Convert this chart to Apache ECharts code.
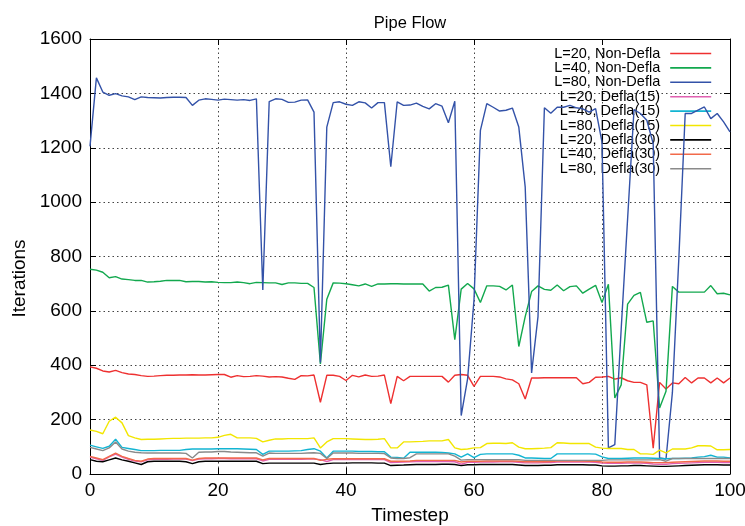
<!DOCTYPE html>
<html>
<head>
<meta charset="utf-8">
<script src="https://cdn.jsdelivr.net/npm/echarts@6/dist/echarts.min.js"></script>
<style>
html,body{margin:0;padding:0;background:#fff;}
#chart{width:745px;height:526px;}
</style>
</head>
<body>
<div id="chart"></div>
<script>
const seriesNames = ['L=20, Non-Defla','L=40, Non-Defla','L=80, Non-Defla','L=20, Defla(15)','L=40, Defla(15)','L=80, Defla(15)','L=20, Defla(30)','L=40, Defla(30)','L=80, Defla(30)'];
const xTicks = [0,20,40,60,80,100];
const yTicks = [0,200,400,600,800,1000,1200,1400,1600];

const l20NonDefla = [394,389,379,375,381,373,368,366,362,359,360,362,363,363,364,364,365,364,364,365,366,366,356,362,358,359,362,360,357,358,357,352,348,362,361,364,264,363,363,359,344,363,357,364,359,360,364,259,359,343,359,359,359,359,359,359,338,363,366,363,322,359,359,359,357,350,346,332,276,353,353,354,354,354,354,354,354,332,337,356,357,359,349,354,343,337,337,328,95,337,313,335,332,355,335,353,353,335,353,335,353];
const l40NonDefla = [753,750,742,722,726,717,715,712,712,706,707,709,712,712,712,707,708,708,706,707,705,704,704,706,704,700,705,704,703,703,697,703,703,701,701,686,405,643,703,702,700,696,692,699,690,699,699,700,700,699,699,699,699,673,686,687,695,494,680,701,681,631,692,692,690,677,695,469,579,671,692,679,676,695,674,689,692,665,680,694,631,698,280,328,625,657,668,558,563,243,304,690,669,669,669,669,669,693,663,665,659];
const l80NonDefla = [1205,1457,1405,1393,1399,1391,1387,1377,1387,1385,1384,1383,1385,1386,1386,1385,1356,1375,1380,1378,1375,1379,1377,1375,1377,1374,1380,677,1370,1380,1378,1367,1368,1375,1376,1331,410,1276,1366,1369,1360,1356,1369,1365,1346,1366,1366,1130,1369,1356,1357,1364,1352,1343,1362,1353,1292,1371,215,350,640,1264,1362,1349,1335,1338,1346,1276,1056,372,579,1347,1327,1349,1349,1356,1347,1343,1331,1344,1221,96,108,534,938,1340,1326,1301,1215,59,55,300,790,1326,1326,1338,1350,1307,1326,1295,1258];
const l20Defla15 = [62,56,50,63,73,62,54,48,45,52,54,54,54,55,55,55,49,55,56,56,57,57,56,56,56,56,56,48,54,54,54,54,54,54,55,55,53,46,53,53,53,53,53,53,53,53,53,42,43,44,45,46,46,46,46,47,46,45,36,43,43,44,44,44,45,45,45,43,41,41,41,42,42,44,44,44,44,44,44,43,40,39,39,39,40,40,40,39,37,36,36,38,39,40,41,42,43,43,43,42,42];
const l40Defla15 = [106,100,94,102,128,98,94,90,86,86,86,87,87,87,87,90,92,92,92,92,93,93,93,93,92,91,90,72,84,84,84,84,85,86,90,93,84,59,84,84,84,84,83,83,83,82,82,62,61,58,80,80,80,80,80,79,77,74,62,74,60,72,74,74,74,74,74,69,59,59,58,57,57,74,74,74,74,74,74,73,63,57,57,57,58,59,59,59,58,57,56,57,57,58,59,62,64,69,62,62,59];
const l80Defla15 = [162,157,148,194,209,188,141,133,127,128,128,129,130,131,131,132,132,132,133,133,135,142,146,133,133,133,131,118,124,129,129,130,130,130,130,133,96,118,130,130,130,129,128,127,127,128,130,96,96,118,118,119,120,122,122,122,127,96,90,92,96,97,112,113,113,112,115,99,93,93,94,95,97,115,114,112,112,112,112,99,95,94,94,94,90,90,74,74,72,88,78,92,92,92,96,104,104,103,89,89,90];
const l20Defla30 = [53,47,45,52,59,52,47,41,35,45,47,47,47,47,47,45,38,45,47,47,47,47,47,47,47,47,47,38,40,40,40,40,40,40,40,40,35,38,40,40,40,41,41,41,41,40,40,31,32,33,34,35,35,35,35,36,36,35,31,34,34,35,35,35,35,35,35,33,31,31,31,32,32,34,34,34,34,34,33,33,30,29,29,30,30,31,31,30,29,28,28,29,30,31,32,33,34,34,34,33,33];
const l40Defla30 = [65,59,53,65,77,65,57,50,47,55,57,57,57,57,57,57,51,57,59,59,59,59,59,59,59,59,59,52,57,57,57,57,57,57,57,57,50,54,56,56,56,56,56,56,56,56,56,47,47,47,48,50,50,50,50,50,50,50,44,47,47,47,48,48,48,48,48,47,45,45,45,45,46,48,48,48,48,48,47,47,44,43,43,43,44,44,44,43,42,42,42,43,44,45,46,47,48,48,48,47,47];
const l80Defla30 = [98,92,86,96,118,92,84,80,78,77,77,77,77,77,77,76,59,80,81,81,83,83,81,80,79,78,78,66,77,76,76,76,76,76,77,78,76,57,77,77,77,77,76,76,76,76,75,59,57,57,60,74,74,74,74,74,74,66,51,53,53,53,53,53,53,53,53,53,50,50,50,50,50,50,50,50,50,50,50,50,50,52,52,52,52,52,52,52,52,53,47,57,57,57,57,57,57,57,57,57,57];

const allValues = [l20NonDefla,l40NonDefla,l80NonDefla,l20Defla15,l40Defla15,l80Defla15,l20Defla30,l40Defla30,l80Defla30];
const colors = ['#ee3030','#12a84e','#3352a8','#e060b0','#12b4d2','#f2e600','#000000','#f26a4a','#8a8a8a'];

const FONT = 'Liberation Sans, Arial, sans-serif';
const chart = echarts.init(document.getElementById('chart'));

const series = allValues.map((vals, k) => ({
  name: seriesNames[k],
  type: 'line',
  data: vals.map((v, i) => [i, v]),
  symbol: 'none',
  showSymbol: false,
  smooth: false,
  animation: false,
  z: 2 + k,
  lineStyle: { color: colors[k], width: 1.4 },
  itemStyle: { color: colors[k] }
}));

const dotted = { show: true, lineStyle: { color: '#444', type: [1.5, 3], width: 1 } };
const tickLabelStyle = { fontFamily: FONT, fontSize: 19, color: '#000' };

chart.setOption({
  animation: false,
  backgroundColor: '#fff',
  title: {
    text: 'Pipe Flow', left: 405, textAlign: 'center', top: 10,
    textStyle: { fontFamily: FONT, fontSize: 16.5, fontWeight: 'normal', color: '#000' }
  },
  legend: {
    orient: 'vertical', align: 'right', right: 33, top: 46, padding: 0,
    itemWidth: 41, itemHeight: 14, itemGap: -0.6,
    itemStyle: { opacity: 0 },
    lineStyle: { width: 1.6 },
    textStyle: { fontFamily: FONT, fontSize: 14.5, color: '#000', lineHeight: 14, padding: [0, 5, 0, 0] },
    data: seriesNames,
    selectedMode: false
  },
  grid: { left: 90, right: 15, top: 39, bottom: 52, containLabel: false, outerBoundsMode: 'none' },
  xAxis: [{
    type: 'value', min: 0, max: 100, interval: 20,
    name: 'Timestep', nameLocation: 'middle', nameGap: 32,
    nameTextStyle: { fontFamily: FONT, fontSize: 19, color: '#000' },
    axisLine: { show: true, onZero: false, lineStyle: { color: '#000', width: 1 } },
    axisTick: { show: true, inside: true, length: 6, lineStyle: { color: '#000' } },
    axisLabel: Object.assign({ margin: 7, formatter: v => xTicks.includes(v) ? String(v) : '' }, tickLabelStyle),
    splitLine: dotted
  }, {
    type: 'value', min: 0, max: 100, interval: 20, position: 'top',
    axisLine: { show: true, onZero: false, lineStyle: { color: '#000', width: 1 } },
    axisTick: { show: true, inside: true, length: 6, lineStyle: { color: '#000' } },
    axisLabel: { show: false }, splitLine: { show: false }
  }],
  yAxis: [{
    type: 'value', min: 0, max: 1600, interval: 200,
    name: 'Iterations', nameLocation: 'middle', nameGap: 60, nameRotate: 90,
    nameTextStyle: { fontFamily: FONT, fontSize: 19, color: '#000', padding: [0, 44, 0, 0] },
    axisLine: { show: true, onZero: false, lineStyle: { color: '#000', width: 1 } },
    axisTick: { show: true, inside: true, length: 6, lineStyle: { color: '#000' } },
    axisLabel: Object.assign({ margin: 8, formatter: v => yTicks.includes(v) ? String(v) : '' }, tickLabelStyle),
    splitLine: dotted
  }, {
    type: 'value', min: 0, max: 1600, interval: 200, position: 'right',
    axisLine: { show: true, onZero: false, lineStyle: { color: '#000', width: 1 } },
    axisTick: { show: true, inside: true, length: 6, lineStyle: { color: '#000' } },
    axisLabel: { show: false }, splitLine: { show: false }
  }],
  series: series
});
</script>
</body>
</html>
